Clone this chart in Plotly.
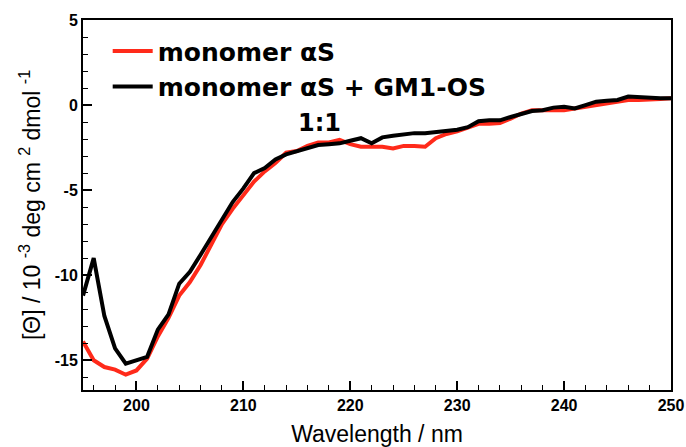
import plotly.graph_objects as go

wavelength = list(range(195, 251))

monomer = [-13.9, -15.0, -15.4, -15.55, -15.85, -15.6, -14.9, -13.6, -12.5, -11.2,
           -10.4, -9.4, -8.2, -7.0, -6.1, -5.3, -4.5, -3.9, -3.4, -2.8,
           -2.7, -2.4, -2.2, -2.2, -2.05, -2.3, -2.45, -2.45, -2.45, -2.55,
           -2.4, -2.4, -2.45, -1.95, -1.7, -1.55, -1.35, -1.1, -1.1, -1.05,
           -0.8, -0.5, -0.3, -0.3, -0.3, -0.3, -0.2, -0.1, 0.0, 0.1,
           0.2, 0.3, 0.3, 0.3, 0.35, 0.4]

monomer_gm1 = [-11.2, -9.0, -12.4, -14.3, -15.2, -15.0, -14.8, -13.2, -12.3, -10.5,
               -9.8, -8.8, -7.8, -6.7, -5.7, -4.9, -4.0, -3.7, -3.2, -2.9,
               -2.7, -2.5, -2.35, -2.3, -2.25, -2.1, -1.95, -2.25, -1.9, -1.8,
               -1.7, -1.65, -1.65, -1.6, -1.55, -1.45, -1.3, -0.95, -0.9, -0.9,
               -0.7, -0.5, -0.35, -0.3, -0.15, -0.1, -0.2, 0.0, 0.2, 0.25,
               0.3, 0.5, 0.45, 0.4, 0.4, 0.4]

series_names = ["monomer αS", "monomer αS + GM1-OS"]
x_ticks = [200, 210, 220, 230, 240, 250]
y_ticks = [5, 0, -5, -10, -15]

font = "Liberation Sans, Arial, Helvetica, sans-serif"
wide_font = "DejaVu Sans, Verdana, sans-serif"

fig = go.Figure()
fig.add_trace(go.Scatter(x=wavelength, y=monomer, mode="lines",
                         name="<b>" + series_names[0] + "</b>",
                         line=dict(color="#ff2a1a", width=4)))
fig.add_trace(go.Scatter(x=wavelength, y=monomer_gm1, mode="lines",
                         name="<b>" + series_names[1] + "</b>",
                         line=dict(color="#000000", width=4)))

fig.add_annotation(x=217.1, y=-1.06, xref="x", yref="y",
                   xanchor="center", yanchor="middle",
                   text="<b>1:1</b>", showarrow=False,
                   font=dict(family=wide_font, size=24, color="black"))

fig.update_layout(
    width=686, height=447,
    margin=dict(l=83, r=15, t=20, b=57),
    paper_bgcolor="white", plot_bgcolor="white",
    font=dict(family=font, color="black"),
    showlegend=True,
    legend=dict(x=0.042, y=0.978, xanchor="left", yanchor="top",
                font=dict(family=wide_font, size=25, color="black"),
                bgcolor="rgba(0,0,0,0)", tracegroupgap=0, itemwidth=40),
    xaxis=dict(range=[195, 250], tickvals=x_ticks,
               ticktext=["<b>%d</b>" % v for v in x_ticks],
               ticks="inside", ticklen=9, tickwidth=1.5, tickcolor="black",
               minor=dict(dtick=2, ticks="inside", ticklen=5, tickwidth=1.2, tickcolor="black"),
               showline=True, linecolor="black", linewidth=2, mirror=True,
               showgrid=False, zeroline=False, automargin=False,
               tickfont=dict(family=font, size=16),
               title=dict(text="Wavelength / nm", font=dict(family=font, size=23), standoff=14)),
    yaxis=dict(range=[-16.75, 5], tickvals=y_ticks,
               ticktext=["<b>%d</b>" % v for v in y_ticks],
               ticks="inside", ticklen=9, tickwidth=1.5, tickcolor="black",
               minor=dict(dtick=1, ticks="inside", ticklen=5, tickwidth=1.2, tickcolor="black"),
               showline=True, linecolor="black", linewidth=2, mirror=True,
               showgrid=False, zeroline=False, automargin=False,
               tickfont=dict(family=font, size=16),
               title=dict(text="[Θ] / 10 <sup>-3</sup> deg cm <sup>2</sup> dmol <sup>-1</sup>",
                          font=dict(family=font, size=23), standoff=8)),
)

fig.write_html("out.html", config={"displayModeBar": False},
               post_script="document.body.style.margin='0px';")
